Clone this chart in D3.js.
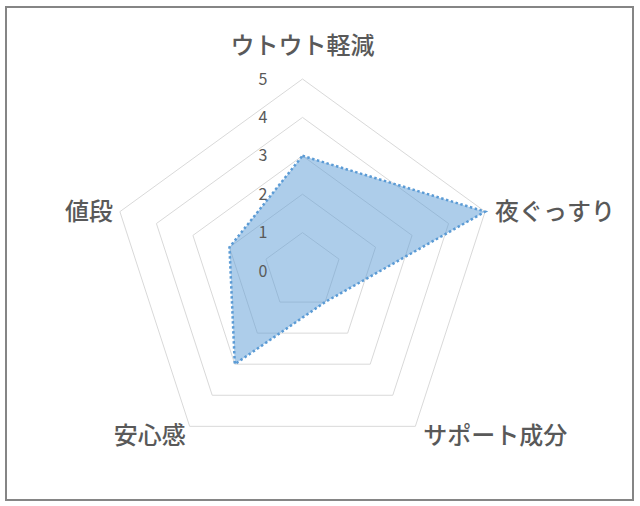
<!DOCTYPE html>
<html>
<head>
<meta charset="utf-8">
<script src="https://cdn.jsdelivr.net/npm/d3@7"></script>
<style>
  body { margin: 0; background: #fff; }
  svg { display: block; font-family: "Noto Sans CJK JP", "Noto Sans", sans-serif; }
</style>
</head>
<body>
<div id="radarChart"></div>
<script>
// chart data
var categories = ["ウトウト軽減", "夜ぐっすり", "サポート成分", "安心感", "値段"];
var values = [3, 5, 1, 3, 2];
var tickValues = [0, 1, 2, 3, 4, 5];

var radarCfg = {
    "width": 640,
    "height": 506,
    "cx": 302.5,
    "cy": 271,
    "radius": 192
};

var svg = d3.select("#radarChart").append("svg")
    .attr("width", radarCfg.width)
    .attr("height", radarCfg.height);

// outer frame
svg.append("rect")
    .attr("x", 6).attr("y", 7)
    .attr("width", 627).attr("height", 493)
    .attr("fill", "#fff")
    .attr("stroke", "#858585")
    .attr("stroke-width", 2);

var g = svg.append("g")
    .attr("transform", "translate(" + radarCfg.cx + "," + radarCfg.cy + ")");

var r = d3.scaleLinear().domain([0, 5]).range([0, radarCfg.radius]);
var angle = d3.scalePoint().domain(categories).range([0, 2 * Math.PI * 4 / 5]);

function pt(cat, v) {
    var a = angle(cat);
    return [r(v) * Math.sin(a), -r(v) * Math.cos(a)];
}

var line = d3.line();

// grid rings
g.selectAll(".ring")
    .data(tickValues.filter(function(d){ return d > 0; }))
    .enter().append("path")
    .attr("class", "ring")
    .attr("d", function(t) {
        return line(categories.map(function(c){ return pt(c, t); })) + "Z";
    })
    .attr("fill", "none")
    .attr("stroke", "#d9d9d9")
    .attr("stroke-width", 1);

// data area
g.append("path")
    .attr("d", line(categories.map(function(c, i){ return pt(c, values[i]); })) + "Z")
    .attr("fill", "#5b9bd5")
    .attr("fill-opacity", 0.5)
    .attr("stroke", "#5b9bd5")
    .attr("stroke-width", 2.5)
    .attr("stroke-dasharray", "2.5,2.5");

// tick labels
g.selectAll(".tick")
    .data(tickValues)
    .enter().append("text")
    .attr("class", "tick")
    .attr("x", -35)
    .attr("y", function(d){ return -r(d); })
    .attr("dy", "0.35em")
    .attr("text-anchor", "end")
    .attr("fill", "#595959")
    .style("font-size", "16px")
    .text(function(d){ return d; });

// category labels
var labelPos = [
    {dx: 0, dy: -33, anchor: "middle"},
    {dx: 10, dy: 0, anchor: "start"},
    {dx: 8, dy: 9, anchor: "start"},
    {dx: -4, dy: 9, anchor: "end"},
    {dx: -7, dy: 0, anchor: "end"}
];

g.selectAll(".cat")
    .data(categories)
    .enter().append("text")
    .attr("class", "cat")
    .attr("x", function(d, i){ return pt(d, 5)[0] + labelPos[i].dx; })
    .attr("y", function(d, i){ return pt(d, 5)[1] + labelPos[i].dy; })
    .attr("dy", "0.35em")
    .attr("text-anchor", function(d, i){ return labelPos[i].anchor; })
    .attr("fill", "#595959")
    .style("font-size", "24px")
    .style("font-weight", "500")
    .text(function(d){ return d; });
</script>
</body>
</html>
